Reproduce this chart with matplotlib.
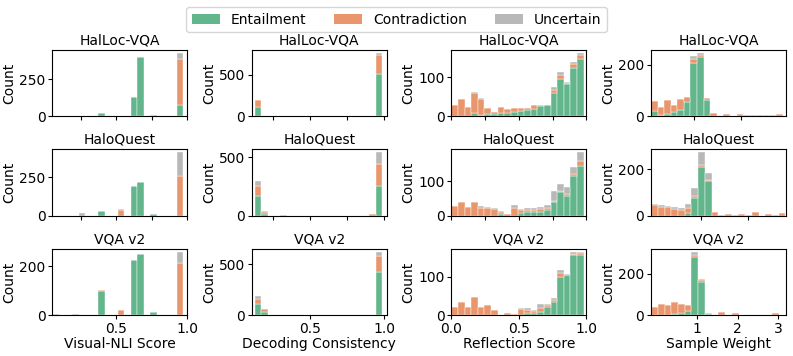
import numpy as np
import matplotlib
matplotlib.use("Agg")
import matplotlib.pyplot as plt
from matplotlib.patches import Patch

# Clases y paleta
CLASES = ["Entailment", "Contradiction", "Uncertain"]
COLORES = ["#63b58b", "#e9966c", "#b8b8b8"]

DATASETS = ["HalLoc-VQA", "HaloQuest", "VQA v2"]
XLABELS = ["Visual-NLI Score", "Decoding Consistency", "Reflection Score",
           "Sample Weight"]

# Rango de bins (inicio, fin) por panel, 20 bins cada uno
RANGO_NLI = (0.052, 0.972)
RANGO_DEC = (0.128, 0.985)
RANGO_REF = (0.0, 0.98)
RANGO_W_HALLOC = (0.095, 2.87)
RANGO_W_HALO = (-0.06, 2.80)
RANGO_W_VQA = (-0.15, 3.20)

# --- Visual-NLI Score ---
nli_halloc_ent = [0, 0, 0, 0, 0, 0, 0, 18, 0, 0, 0, 0, 130, 400, 0, 10, 0, 0, 0, 73]
nli_halloc_con = [0, 0, 0, 0, 0, 0, 0, 3, 0, 0, 0, 0, 0, 0, 0, 0, 0, 0, 0, 313]
nli_halloc_unc = [0, 0, 0, 0, 0, 0, 0, 0, 0, 0, 0, 0, 0, 3, 0, 0, 0, 0, 0, 41]
nli_halo_ent = [0, 0, 0, 0, 0, 0, 0, 30, 0, 0, 0, 0, 190, 218, 0, 13, 0, 0, 0, 0]
nli_halo_con = [0, 0, 0, 0, 0, 0, 0, 3, 0, 0, 38, 0, 0, 0, 0, 0, 0, 0, 0, 260]
nli_halo_unc = [0, 0, 0, 0, 15, 0, 0, 0, 0, 0, 2, 0, 0, 0, 0, 0, 0, 0, 0, 151]
nli_vqa_ent = [0, 0, 0, 0, 0, 0, 0, 100, 0, 0, 0, 0, 228, 250, 0, 12, 0, 0, 0, 0]
nli_vqa_con = [0, 0, 0, 0, 0, 0, 0, 2, 0, 0, 22, 0, 0, 0, 0, 0, 0, 0, 0, 214]
nli_vqa_unc = [4, 2, 0, 3, 0, 0, 0, 0, 0, 0, 0, 0, 0, 0, 0, 0, 0, 0, 0, 46]

# --- Decoding Consistency ---
dec_halloc_ent = [108, 0, 0, 0, 0, 0, 0, 0, 0, 0, 0, 0, 0, 0, 0, 0, 0, 0, 0, 505]
dec_halloc_con = [82, 5, 0, 0, 0, 0, 0, 0, 0, 0, 0, 0, 0, 0, 0, 0, 0, 0, 0, 230]
dec_halloc_unc = [10, 0, 0, 0, 0, 0, 0, 0, 0, 0, 0, 0, 0, 0, 0, 0, 0, 0, 0, 27]
dec_halo_ent = [168, 15, 0, 0, 2, 0, 0, 0, 0, 0, 0, 0, 0, 0, 0, 0, 0, 0, 0, 254]
dec_halo_con = [90, 17, 0, 0, 0, 0, 0, 0, 0, 0, 0, 0, 0, 0, 0, 0, 0, 0, 12, 194]
dec_halo_unc = [42, 5, 0, 0, 4, 0, 0, 0, 0, 0, 0, 0, 0, 0, 0, 0, 0, 0, 0, 95]
dec_vqa_ent = [113, 30, 0, 0, 0, 0, 0, 0, 0, 0, 0, 0, 0, 0, 0, 0, 0, 0, 0, 424]
dec_vqa_con = [50, 25, 0, 0, 0, 0, 0, 0, 0, 0, 0, 0, 0, 0, 0, 0, 0, 0, 0, 160]
dec_vqa_unc = [20, 3, 0, 0, 0, 0, 0, 0, 0, 0, 0, 0, 0, 0, 0, 0, 0, 0, 0, 38]

# --- Reflection Score ---
ref_halloc_ent = [0, 0, 0, 8, 4, 5, 5, 8, 7, 10, 12, 15, 18, 25, 28, 60, 97, 82, 125, 148]
ref_halloc_con = [30, 43, 23, 52, 41, 15, 5, 15, 12, 12, 8, 5, 11, 4, 2, 8, 8, 4, 10, 10]
ref_halloc_unc = [0, 0, 0, 2, 2, 0, 0, 0, 0, 0, 0, 0, 0, 1, 0, 7, 8, 2, 5, 5]
ref_halo_ent = [0, 0, 0, 0, 0, 0, 0, 5, 0, 0, 8, 10, 10, 10, 16, 40, 68, 57, 114, 145]
ref_halo_con = [28, 40, 26, 40, 23, 22, 20, 5, 5, 23, 8, 6, 6, 8, 6, 2, 3, 6, 6, 15]
ref_halo_unc = [0, 0, 0, 0, 4, 3, 2, 3, 0, 7, 4, 6, 6, 7, 10, 30, 20, 20, 23, 24]
ref_vqa_ent = [0, 0, 0, 0, 0, 0, 0, 0, 0, 0, 0, 5, 5, 9, 20, 35, 100, 104, 157, 156]
ref_vqa_con = [22, 35, 20, 48, 22, 25, 12, 1, 5, 3, 16, 9, 5, 9, 7, 5, 9, 1, 3, 5]
ref_vqa_unc = [0, 0, 0, 0, 0, 0, 0, 0, 0, 0, 2, 4, 4, 11, 1, 4, 9, 2, 4, 4]

# --- Sample Weight ---
w_halloc_ent = [20, 5, 10, 15, 25, 55, 205, 228, 62, 0, 0, 0, 0, 0, 0, 0, 0, 0, 0, 0]
w_halloc_con = [40, 30, 52, 27, 43, 20, 15, 10, 8, 12, 0, 8, 0, 8, 3, 3, 5, 5, 5, 10]
w_halloc_unc = [0, 0, 0, 0, 0, 0, 15, 7, 0, 0, 0, 0, 0, 0, 0, 0, 0, 0, 0, 0]
w_halo_ent = [0, 0, 0, 0, 0, 12, 75, 210, 150, 0, 0, 0, 0, 0, 0, 0, 0, 0, 0, 0]
w_halo_con = [45, 38, 36, 30, 25, 20, 11, 9, 5, 15, 2, 8, 3, 6, 2, 15, 0, 6, 4, 10]
w_halo_unc = [7, 7, 6, 8, 8, 20, 31, 53, 27, 0, 0, 0, 0, 0, 0, 0, 0, 0, 0, 0]
w_vqa_ent = [0, 0, 0, 5, 10, 20, 280, 160, 5, 0, 0, 0, 0, 0, 0, 0, 0, 0, 0, 0]
w_vqa_con = [40, 55, 50, 60, 45, 30, 10, 8, 3, 0, 15, 0, 10, 0, 0, 0, 0, 0, 12, 0]
w_vqa_unc = [0, 0, 0, 0, 0, 0, 15, 5, 0, 0, 0, 0, 0, 0, 0, 0, 0, 0, 0, 0]

PANELES = [
    [(RANGO_NLI, nli_halloc_ent, nli_halloc_con, nli_halloc_unc),
     (RANGO_DEC, dec_halloc_ent, dec_halloc_con, dec_halloc_unc),
     (RANGO_REF, ref_halloc_ent, ref_halloc_con, ref_halloc_unc),
     (RANGO_W_HALLOC, w_halloc_ent, w_halloc_con, w_halloc_unc)],
    [(RANGO_NLI, nli_halo_ent, nli_halo_con, nli_halo_unc),
     (RANGO_DEC, dec_halo_ent, dec_halo_con, dec_halo_unc),
     (RANGO_REF, ref_halo_ent, ref_halo_con, ref_halo_unc),
     (RANGO_W_HALO, w_halo_ent, w_halo_con, w_halo_unc)],
    [(RANGO_NLI, nli_vqa_ent, nli_vqa_con, nli_vqa_unc),
     (RANGO_DEC, dec_vqa_ent, dec_vqa_con, dec_vqa_unc),
     (RANGO_REF, ref_vqa_ent, ref_vqa_con, ref_vqa_unc),
     (RANGO_W_VQA, w_vqa_ent, w_vqa_con, w_vqa_unc)],
]

XLIMS = [(0.052, 1.0), (0.108, 1.018), (0.0, 1.0), None]
XLIM_W = [(0.095, 2.94), (-0.064, 2.81), (-0.15, 3.2)]
TICKS_ARRIBA = [[0.25, 0.5, 0.75, 1.0], [0.25, 0.5, 0.75, 1.0],
                [0.0, 0.25, 0.5, 0.75, 1.0], [1, 2]]
TICKS_ABAJO = [[0.5, 1.0], [0.5, 1.0], [0.0, 0.5, 1.0], [1, 2, 3]]

FS = 10

fig, axes = plt.subplots(3, 4, figsize=(7.93, 3.56), dpi=100)
fig.subplots_adjust(left=0.066, right=0.991, top=0.86, bottom=0.115,
                    wspace=0.48, hspace=0.5)

for r in range(3):
    for c in range(4):
        ax = axes[r, c]
        rango, ent, con, unc = PANELES[r][c]
        bordes = np.linspace(rango[0], rango[1], len(ent) + 1)
        centros = (bordes[:-1] + bordes[1:]) / 2
        ax.hist([centros] * 3, bins=bordes, weights=[ent, con, unc],
                stacked=True, color=COLORES, edgecolor="white", linewidth=0.3)
        ax.set_title(DATASETS[r], fontsize=FS, pad=4)
        ax.set_ylabel("Count", fontsize=FS, labelpad=2)
        ax.tick_params(labelsize=FS, length=3, pad=2)
        if c < 3:
            ax.set_xlim(*XLIMS[c])
        else:
            ax.set_xlim(*XLIM_W[r])
        if r < 2:
            ax.set_xticks(TICKS_ARRIBA[c])
            ax.set_xticklabels([])
        else:
            ax.set_xticks(TICKS_ABAJO[c])
            ax.set_xlabel(XLABELS[c], fontsize=FS, labelpad=1)

handles = [Patch(facecolor=col, label=lab) for col, lab in zip(COLORES, CLASES)]
fig.legend(handles=handles, loc="upper center", bbox_to_anchor=(0.5, 1.0),
           ncol=3, fontsize=10, frameon=True, handlelength=2.0,
           columnspacing=2.0)

fig.savefig("out.png", dpi=100)
plt.close(fig)
